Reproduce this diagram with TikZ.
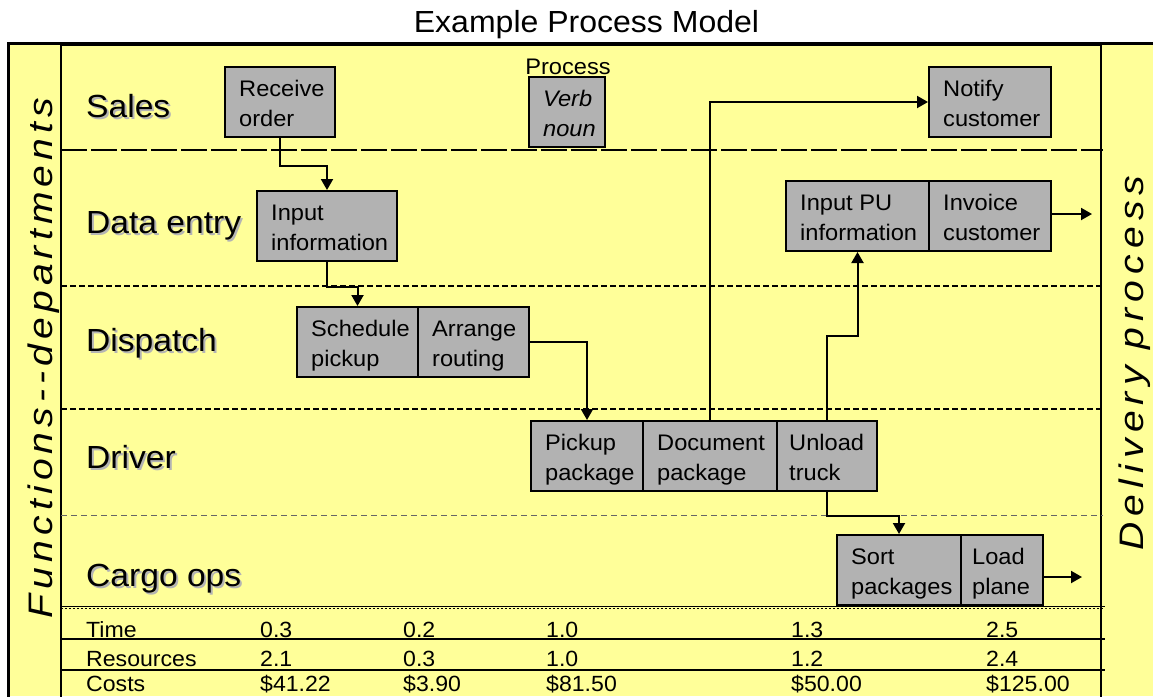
\documentclass[tikz,border=0pt]{standalone}
\usepackage{fontspec}
\setmainfont{Liberation Sans}[FakeStretch=1.05]
\newfontfamily\vertleftfont{Liberation Sans}[FakeStretch=1.15,LetterSpace=15]
\newfontfamily\vertrightfont{Liberation Sans}[FakeStretch=1.15,LetterSpace=18]
\usetikzlibrary{arrows.meta}
\definecolor{bgyellow}{HTML}{FFFF99}
\definecolor{boxgray}{HTML}{B2B2B2}
\definecolor{shadowgray}{HTML}{B4B4B4}
\newcommand\pstep[6][]{%
  \node[pbox, minimum width=#5pt] (#2) at (#3,#4) {};
  \node[btxt,#1] (#2-t) at ([shift={(15,13)}]#2.north west) {\rule{0pt}{17pt}#6};}
\newcommand\lanelab[3]{%
  \node[laneshadow] (#1-s) at (88,#2+2) {#3};
  \node[lanetext] (#1) at (86,#2) {#3};}
\begin{document}
\begin{tikzpicture}[x=1pt,y=-1pt,
  pbox/.style={draw, line width=2pt, fill=boxgray, minimum height=70pt, inner sep=0pt},
  btxt/.style={anchor=north west, inner sep=0pt, align=left, font=\fontsize{22.5}{30}\selectfont},
  lanetext/.style={anchor=base west, inner sep=0pt, font=\fontsize{32}{38}\selectfont},
  laneshadow/.style={lanetext, text=shadowgray},
  tbl/.style={anchor=base west, inner sep=0pt, font=\fontsize{22}{26}\selectfont},
  conn/.style={line width=2pt, -{Triangle[length=11pt,width=12pt]}},
  sepA/.style={line width=2pt, dash pattern=on 26pt off 4pt},
  sepB/.style={line width=1.5pt, dash pattern=on 6pt off 3pt},
  sepC/.style={line width=1pt, black!60, dash pattern=on 6pt off 4pt},
  rule/.style={line width=1.5pt}]
\useasboundingbox (0,0) rectangle (1153,696);
% background and frames
\fill[bgyellow] (8,43) rectangle (1153,696);
\draw[line width=3pt] (8,697) -- (8,43) -- (1154,43);
\draw[line width=1.2pt] (61,697) -- (61,45.5) -- (1101,45.5) -- (1101,697);
% title
\node[anchor=base, inner sep=0pt, font=\fontsize{30.5}{36}\selectfont] (title) at (586.5,32) {Example Process Model};
% vertical side texts
\node[anchor=base, rotate=90, inner sep=0pt, font=\vertleftfont\itshape\fontsize{34}{40}\selectfont] (fd) at (52,358) {Functions--departments};
\node[anchor=base, rotate=90, inner sep=0pt, font=\vertrightfont\itshape\fontsize{34}{40}\selectfont] (dlp) at (1143,363) {Delivery process};
% lane separators
\draw[sepA] (61,150) -- (1103,150);
\draw[sepB] (61,286) -- (1103,286);
\draw[sepB] (61,409) -- (1103,409);
\draw[sepC] (61,515) -- (1103,515);
\draw[line width=1pt, dash pattern=on 2pt off 2pt] (61,608.5) -- (1103,608.5);
\draw[rule] (61,606.5) -- (1105,606.5);
\draw[rule] (61,639) -- (1105,639);
\draw[rule] (61,670) -- (1105,670);
% lane labels
\lanelab{lsales}{117}{Sales}
\lanelab{ldata}{233}{Data entry}
\lanelab{ldisp}{351}{Dispatch}
\lanelab{ldriv}{468}{Driver}
\lanelab{lcargo}{586}{Cargo ops}
% process boxes
\pstep{ro}{280}{102}{110}{Receive\\order}
\pstep[font=\fontsize{22.5}{30}\selectfont\itshape]{vn}{567}{112}{76}{Verb\\noun}
\node[anchor=base, inner sep=0pt, font=\fontsize{22.5}{27}\selectfont] (proc) at (568,74) {Process};
\pstep{nc}{990}{102}{122}{Notify\\customer}
\pstep{ii}{327}{226}{140}{Input\\information}
\pstep{ip}{857.5}{216}{143}{Input PU\\information}
\pstep{ic}{990}{216}{122}{Invoice\\customer}
\pstep{sp}{357.5}{342}{121}{Schedule\\pickup}
\pstep{ar}{473.5}{342}{111}{Arrange\\routing}
\pstep{pp}{587}{456}{112}{Pickup\\package}
\pstep{dp}{710}{456}{134}{Document\\package}
\pstep[xshift=-2pt]{ut}{827}{456}{100}{Unload\\truck}
\pstep{sk}{899}{570}{124}{Sort\\packages}
\pstep[xshift=-3pt]{lp}{1002}{570}{82}{Load\\plane}
% free ends
\coordinate (o1) at (1092,214);
\coordinate (o2) at (1082,577);
% connectors
\draw[conn] (ro.south) -- ++(0,28) -| (ii.north);
\draw[conn] (ii.south) -- ++(0,25) -| (sp.north);
\draw[conn] (ar.east) -| (pp.north);
\draw[conn] (dp.north) |- (nc.west);
\draw[conn] (ut.north) -- ++(0,-84) -| (ip.south);
\draw[conn] (ut.south) -- ++(0,24) -| (sk.north);
\draw[conn] (ic.east |- o1) -- (o1);
\draw[conn] (lp.east |- o2) -- (o2);
% table
\node[tbl] (t1) at (86,637) {Time};
\node[tbl] (t2) at (86,666) {Resources};
\node[tbl] (t3) at (86,691) {Costs};
\node[tbl] (a1) at (260,637) {0.3};
\node[tbl] (a2) at (403,637) {0.2};
\node[tbl] (a3) at (546,637) {1.0};
\node[tbl] (a4) at (791,637) {1.3};
\node[tbl] (a5) at (986,637) {2.5};
\node[tbl] (b1) at (260,666) {2.1};
\node[tbl] (b2) at (403,666) {0.3};
\node[tbl] (b3) at (546,666) {1.0};
\node[tbl] (b4) at (791,666) {1.2};
\node[tbl] (b5) at (986,666) {2.4};
\node[tbl] (c1) at (260,691) {\$41.22};
\node[tbl] (c2) at (403,691) {\$3.90};
\node[tbl] (c3) at (546,691) {\$81.50};
\node[tbl] (c4) at (791,691) {\$50.00};
\node[tbl] (c5) at (986,691) {\$125.00};
\end{tikzpicture}
\end{document}
